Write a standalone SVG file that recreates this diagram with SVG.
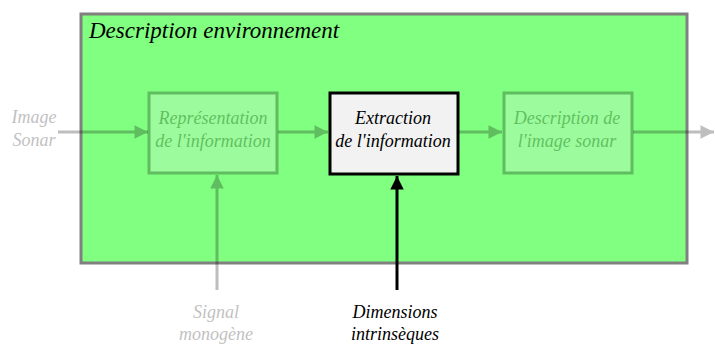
<svg xmlns="http://www.w3.org/2000/svg" width="715" height="348" viewBox="0 0 715 348">
<style>
text{font-family:'Liberation Serif','Times New Roman',serif;font-style:italic;fill:#000}
.t{font-size:18px;text-anchor:middle}
.box{fill:#f2f2f2;stroke:#000;stroke-width:3}
.ln{stroke:#000;stroke-width:3;fill:none}
.fade{opacity:0.25}
</style>
<defs>
<marker id="ah" viewBox="0 0 10 10" refX="10" refY="5" markerWidth="5" markerHeight="4.5" markerUnits="strokeWidth" orient="auto">
<path d="M0,0 L10,5 L0,10 z" fill="#000"/>
</marker>
</defs>
<g id="env">
<rect x="81" y="14" width="606" height="249" fill="#80ff80" stroke="#808080" stroke-width="3"/>
<text x="89" y="38" style="font-size:23px">Description environnement</text>
</g>
<g id="connectors">
<g class="fade">
<line class="ln" x1="58" y1="132" x2="148" y2="132" marker-end="url(#ah)"/>
<line class="ln" x1="278" y1="132" x2="328" y2="132" marker-end="url(#ah)"/>
<line class="ln" x1="459" y1="132" x2="502" y2="132" marker-end="url(#ah)"/>
<line class="ln" x1="633" y1="132" x2="714" y2="132" marker-end="url(#ah)"/>
<line class="ln" x1="217" y1="290" x2="217" y2="175" marker-end="url(#ah)"/>
</g>
<line class="ln" x1="397" y1="290" x2="397" y2="176" marker-end="url(#ah)"/>
</g>
<g id="n-image" class="fade">
<text class="t" x="34" y="123">Image</text>
<text class="t" x="34" y="146">Sonar</text>
</g>
<g id="n-repr" class="fade">
<rect class="box" x="149" y="93" width="128" height="80"/>
<text class="t" x="213" y="124">Représentation</text>
<text class="t" x="213" y="147">de l'information</text>
</g>
<g id="n-extr">
<rect class="box" x="330" y="93" width="128" height="81"/>
<text class="t" x="393" y="124">Extraction</text>
<text class="t" x="393" y="147">de l'information</text>
</g>
<g id="n-desc" class="fade">
<rect class="box" x="504" y="93" width="128" height="80"/>
<text class="t" x="567" y="124">Description de</text>
<text class="t" x="567" y="147">l'image sonar</text>
</g>
<g id="n-signal" class="fade">
<text class="t" x="216" y="318">Signal</text>
<text class="t" x="216" y="340">monogène</text>
</g>
<g id="n-dim">
<text class="t" x="395" y="318">Dimensions</text>
<text class="t" x="395" y="340">intrinsèques</text>
</g>
</svg>
